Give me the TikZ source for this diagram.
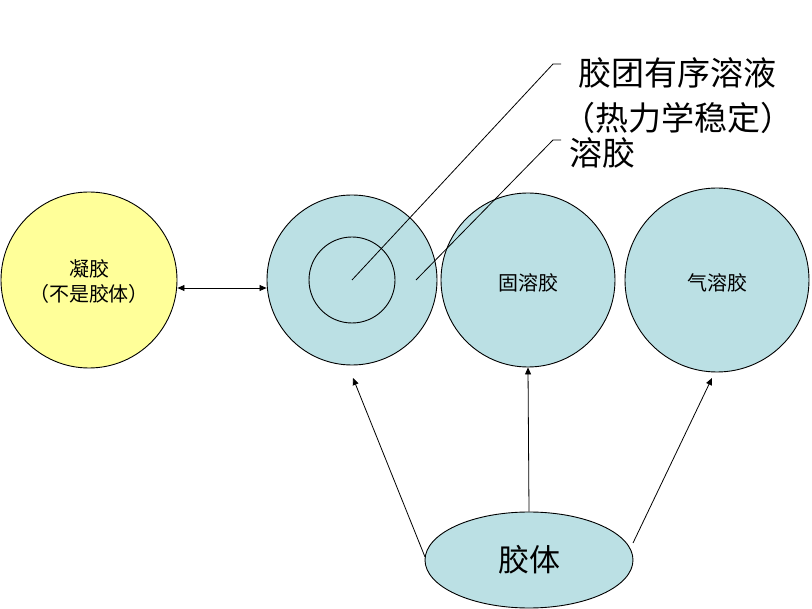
\documentclass[tikz,border=0pt]{standalone}
\usepackage{fontspec}
\newfontfamily\cjk{Noto Sans CJK SC}
\usetikzlibrary{arrows.meta,shapes.geometric}
\definecolor{cyanfill}{RGB}{187,224,228}
\definecolor{yellowfill}{RGB}{255,255,153}
\begin{document}
\begin{tikzpicture}[x=1pt,y=-1pt,
  blob/.style={circle,draw=black,line width=0.9pt,fill=cyanfill,inner sep=0pt},
  lbl/.style={font=\cjk\fontsize{20}{25}\selectfont,align=center},
  big/.style={font=\cjk\fontsize{33}{36}\selectfont,anchor=west,inner sep=0pt},
  arr/.style={line width=0.8pt,-{Triangle[length=7pt,width=6pt]}},
  lead/.style={line width=0.8pt}]
\useasboundingbox (0,0) rectangle (812,609);
\node[blob,fill=yellowfill,minimum size=176pt] (gel) at (89,280) {};
\node[lbl] (geltxt) at (89,282) {凝胶\\（不是胶体）};
\node[blob,minimum size=170pt] (sol) at (352,280) {};
\node[circle,draw=black,line width=0.9pt,minimum size=86pt,inner sep=0pt] (inner) at (352,280) {};
\node[blob,minimum size=174pt] (solid) at (528,280) {};
\node[lbl] (solidtxt) at (528,283) {固溶胶};
\node[blob,minimum size=184pt] (aero) at (717,280) {};
\node[lbl] (aerotxt) at (717,283) {气溶胶};
\node[ellipse,draw=black,line width=0.9pt,fill=cyanfill,minimum width=208pt,minimum height=96pt,inner sep=0pt,font=\cjk\fontsize{31}{34}\selectfont] (coll) at (529,560) {胶体};
\draw[line width=0.8pt,{Triangle[length=7pt,width=6pt]}-{Triangle[length=7pt,width=6pt]}] (gel.east |- 0,288) -- (sol.west |- 0,288);
\coordinate (a1s) at (425,557);
\coordinate (a1e) at (353,378);
\draw[arr] (a1s) -- (a1e);
\draw[arr] (coll.north) -- (solid.south);
\coordinate (a3s) at (633,543);
\coordinate (a3e) at (712,378);
\draw[arr] (a3s) -- (a3e);
\coordinate (c1) at (352,280);
\coordinate (k1) at (553,64);
\coordinate (t1) at (561,64);
\draw[lead] (c1) -- (k1) -- (t1);
\coordinate (c2) at (416,280);
\coordinate (k2) at (553,140);
\coordinate (t2) at (561,140);
\draw[lead] (c2) -- (k2) -- (t2);
\node[big] (l1) at (578,73) {胶团有序溶液};
\node[big] (l2) at (562,118) {（热力学稳定）};
\node[big] (l3) at (569,153) {溶胶};
\end{tikzpicture}
\end{document}
